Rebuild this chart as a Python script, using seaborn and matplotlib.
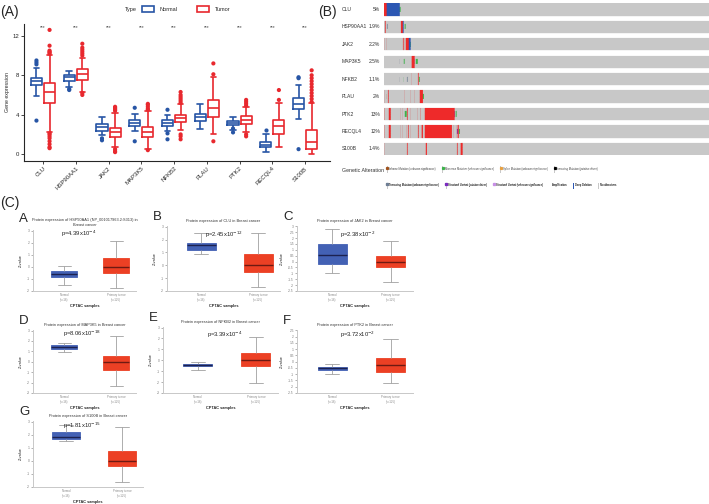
import numpy as np
import pandas as pd
import matplotlib
matplotlib.use("Agg")
import matplotlib.pyplot as plt
import seaborn as sns
from matplotlib.patches import Patch
from matplotlib.lines import Line2D
from matplotlib.colors import ListedColormap
from matplotlib.legend_handler import HandlerTuple
from matplotlib.transforms import blended_transform_factory

# ---------------- Panel A data (boxplot stats) ----------------
genes = ["CLU", "HSP90AA1", "JAK2", "MAP3K5", "NFKB2", "PLAU", "PTK2", "RECQL4", "S100B"]
# whisker-low, Q1, median, Q3, whisker-high
normal_stats = [
    [5.9, 7.0, 7.41, 7.72, 8.7],
    [6.76, 7.44, 7.78, 8.02, 8.43],
    [1.9, 2.35, 2.75, 3.03, 3.77],
    [2.35, 2.82, 3.13, 3.43, 4.1],
    [2.35, 2.82, 3.16, 3.43, 3.94],
    [2.58, 3.37, 3.77, 4.11, 5.06],
    [2.48, 2.92, 3.16, 3.33, 3.77],
    [0.2, 0.71, 0.95, 1.22, 2.07],
    [3.6, 4.55, 5.13, 5.71, 6.97],
]
tumor_stats = [
    [2.24, 5.23, 6.32, 7.17, 10.06],
    [6.3, 7.5, 8.12, 8.6, 9.8],
    [0.7, 1.73, 2.24, 2.69, 4.2],
    [0.5, 1.73, 2.24, 2.75, 4.4],
    [2.4, 3.26, 3.7, 3.94, 5.1],
    [2.0, 3.77, 4.72, 5.47, 7.78],
    [2.24, 3.09, 3.5, 3.84, 4.8],
    [0.7, 2.0, 2.82, 3.43, 5.2],
    [0.03, 0.54, 1.22, 2.48, 5.2],
]
normal_fliers = [
    [9.5, 9.3, 9.1, 3.4],
    [6.6, 6.5],
    [1.6, 1.4],
    [4.7, 1.3],
    [4.5, 2.1, 1.5],
    [],
    [2.6, 2.2],
    [2.4],
    [7.8, 7.7, 0.5],
]
tumor_fliers = [
    [10.2, 10.3, 10.4, 10.5, 11.0, 12.6, 2.1, 2.0, 1.8, 1.6, 1.3, 1.0, 0.7, 0.6],
    [10.0, 10.2, 10.4, 10.6, 10.8, 11.2, 6.2, 6.0],
    [4.4, 4.5, 4.6, 4.7, 4.8, 0.5, 0.3, 0.2],
    [4.5, 4.6, 4.8, 5.0, 5.1, 0.4],
    [5.2, 5.4, 5.6, 5.8, 6.0, 6.3, 2.0, 1.8, 1.5],
    [8.1, 9.2, 1.3],
    [4.9, 5.1, 5.3, 5.5, 2.0, 1.8],
    [5.5, 6.5],
    [5.3, 5.6, 5.9, 6.2, 6.5, 6.8, 7.1, 7.4, 7.7, 8.0, 8.5],
]
types = ["Normal", "Tumor"]
sig_marks = ["***"] * 9

# ---------------- Panel B data (oncoprint, 975 sample columns) ----------------
n_samples = 975
onco_pct = ["5%", "1.9%", "2.2%", "2.5%", "1.1%", "2%", "13%", "12%", "1.4%"]
# runs of altered samples: (start, stop, alteration)
onco_runs = [
    [(0, 8, "AMP"), (8, 48, "DEL"), (48, 50, "MIS")],
    [(4, 5, "AMP"), (10, 11, "TRU"), (52, 57, "AMP"), (57, 59, "DEL"), (62, 65, "MIS")],
    [(2, 3, "AMP"), (8, 9, "AMP"), (58, 59, "AMP"), (62, 63, "AMP"), (66, 75, "AMP"), (75, 80, "DEL"), (80, 82, "MIS")],
    [(48, 49, "TRU"), (60, 62, "MIS"), (83, 92, "AMP"), (92, 93, "SVD"), (96, 102, "MIS")],
    [(48, 49, "TRU"), (60, 61, "MIS"), (70, 71, "TRU"), (83, 84, "AMP"), (103, 104, "AMP"), (106, 108, "MIS")],
    [(2, 3, "AMP"), (8, 9, "INF"), (13, 14, "AMP"), (63, 64, "AMP"), (80, 81, "AMP"), (93, 94, "AMP"),
     (108, 118, "AMP"), (118, 121, "MIS")],
    [(2, 4, "AMP"), (15, 21, "AMP"), (50, 51, "AMP"), (56, 57, "AMP"), (63, 68, "MIS"), (70, 71, "AMP"),
     (80, 81, "AMP"), (102, 103, "AMP"), (110, 112, "AMP"), (123, 212, "AMP"), (212, 214, "SVD"), (215, 218, "MIS")],
    [(2, 4, "AMP"), (15, 21, "AMP"), (50, 51, "AMP"), (56, 57, "AMP"), (68, 69, "AMP"), (73, 74, "AMP"),
     (80, 81, "AMP"), (103, 104, "AMP"), (113, 118, "AMP"), (123, 205, "AMP"), (210, 211, "AMP"), (218, 219, "AMP"),
     (220, 221, "SVD"), (221, 225, "AMP"), (226, 229, "MIS")],
    [(3, 4, "AMP"), (70, 71, "AMP"), (126, 130, "AMP"), (220, 221, "AMP"), (230, 236, "AMP")],
]
alt_codes = ["NONE", "AMP", "DEL", "MIS", "INF", "SPL", "TRD", "TRU", "SVD", "SVU"]
alt_colors = ["#c8c8c8", "#ee2a2a", "#2c57b3", "#3cb34a", "#a0521d", "#e8a040", "#000000", "#6f7f95", "#7b2cbf", "#c890e6"]
legend_row1 = [("INF", "Inframe Mutation (unknown significance)"), ("MIS", "Missense Mutation (unknown significance)"),
               ("SPL", "Splice Mutation (unknown significance)"), ("TRD", "Truncating Mutation (putative driver)")]
legend_row2 = [("TRU", "Truncating Mutation (unknown significance)"), ("SVD", "Structural Variant (putative driver)"),
               ("SVU", "Structural Variant (unknown significance)"), ("AMP", "Amplification"),
               ("DEL", "Deep Deletion"), ("NONE", "No alterations")]

# ---------------- Panel C data (CPTAC Z-values) ----------------
c_letters = ["A", "B", "C", "D", "E", "F", "G"]
c_titles = [
    "Protein expression of HSP90AA1 (NP_001017963.2:S313) in\nBreast cancer",
    "Protein expression of CLU in Breast cancer",
    "Protein expression of JAK2 in Breast cancer",
    "Protein expression of MAP3K5 in Breast cancer",
    "Protein expression of NFKB2 in Breast cancer",
    "Protein expression of PTK2 in Breast cancer",
    "Protein expression of S100B in Breast cancer",
]
c_pvals = [r"p=4.39x10$^{-4}$", r"p=2.45x10$^{-12}$", r"p=2.38x10$^{-2}$", r"p=8.06x10$^{-18}$",
           r"p=3.39x10$^{-4}$", r"p=3.72x10$^{-2}$", r"p=1.81x10$^{-15}$"]
c_normal = [
    [-1.53, -0.86, -0.61, -0.36, 0.03],
    [0.87, 1.2, 1.6, 1.72, 2.5],
    [-1.0, -0.23, 0.57, 1.49, 2.77],
    [0.9, 1.21, 1.41, 1.57, 1.83],
    [-0.86, -0.52, -0.4, -0.3, -0.15],
    [-1.01, -0.66, -0.5, -0.39, -0.15],
    [1.54, 1.67, 1.82, 2.18, 2.74],
]
c_tumor = [
    [-1.78, -0.5, 0.0, 0.72, 2.14],
    [-1.7, -0.54, 0.0, 0.87, 2.5],
    [-1.71, -0.49, 0.0, 0.49, 1.77],
    [-2.36, -0.8, 0.0, 0.54, 2.43],
    [-2.1, -0.52, 0.06, 0.7, 2.15],
    [-1.69, -0.82, -0.28, 0.28, 1.82],
    [-1.62, -0.38, 0.0, 0.72, 2.56],
]
c_ticks = [
    [-2, -1, 0, 1, 2, 3],
    [-2, -1, 0, 1, 2, 3],
    [-2.5, -2, -1.5, -1, -0.5, 0, 0.5, 1, 1.5, 2, 2.5, 3],
    [-3, -2, -1, 0, 1, 2, 3],
    [-3, -2, -1, 0, 1, 2, 3],
    [-2.5, -2, -1.5, -1, -0.5, 0, 0.5, 1, 1.5, 2, 2.5],
    [-2, -1, 0, 1, 2, 3],
]
c_groups = ["Normal\n(n=18)", "Primary tumor\n(n=125)"]

# ---------------- style ----------------
sns.set_theme(style="ticks")
plt.rcParams['font.family'] = ['Liberation Sans', 'DejaVu Sans']
plt.rcParams['axes.linewidth'] = 0.8

W, H = 709, 504
fig = plt.figure(figsize=(W / 100, H / 100), dpi=100)
fig.patch.set_facecolor("white")


def add_ax(x0, y0, x1, y1):
    return fig.add_axes([x0 / W, 1 - y1 / H, (x1 - x0) / W, (y1 - y0) / H])


def ftext(x, y, s, **kw):
    fig.text(x / W, 1 - y / H, s, **kw)


BLUE_A, RED_A = "#2755a5", "#e8282e"

# ---------------- Panel A ----------------
axA = add_ax(24, 24, 330, 161)
rows = []
for g, ns, ts in zip(genes, normal_stats, tumor_stats):
    for v in ns:
        rows.append((g, "Normal", v))
    for v in ts:
        rows.append((g, "Tumor", v))
dfA = pd.DataFrame(rows, columns=["gene", "Type", "value"])
frows = []
for g, nf, tf in zip(genes, normal_fliers, tumor_fliers):
    for v in nf:
        frows.append((g, "Normal", v))
    for v in tf:
        frows.append((g, "Tumor", v))
dfF = pd.DataFrame(frows, columns=["gene", "Type", "value"])
pal = {"Normal": BLUE_A, "Tumor": RED_A}
sns.boxplot(data=dfA, x="gene", y="value", hue="Type", order=genes, hue_order=types, palette=pal,
            fill=False, whis=(0, 100), width=0.8, gap=0.15, linewidth=1.2, ax=axA, legend=False)
sns.stripplot(data=dfF, x="gene", y="value", hue="Type", order=genes, hue_order=types, palette=pal,
              dodge=True, jitter=False, size=3.0, ax=axA, legend=False, zorder=3)
axA.set_ylim(-0.7, 13.2)
axA.set_xlim(-0.58, 8.76)
axA.set_yticks([0, 4, 8, 12])
axA.set_xlabel("")
axA.set_ylabel("Gene expression", fontsize=3.8, labelpad=2)
axA.tick_params(axis="both", labelsize=4.3, length=2, width=0.6, pad=1.5)
for lab in axA.get_xticklabels():
    lab.set_rotation(45)
    lab.set_ha("right")
    lab.set_rotation_mode("anchor")
for i, s in enumerate(sig_marks):
    axA.text(i, 12.85, s, ha="center", va="center", fontsize=3.5, color="#444444")
sns.despine(ax=axA)
ftext(125, 9, "Type", fontsize=4, va="center")
axA.legend(handles=[Patch(facecolor="white", edgecolor=BLUE_A, lw=1.2),
                    Patch(facecolor="white", edgecolor=RED_A, lw=1.2)],
           labels=types, ncol=2, loc="center", bbox_to_anchor=(186 / W, 1 - 9 / H),
           bbox_transform=fig.transFigure, frameon=False, fontsize=4, handlelength=2.2,
           handleheight=1.2, columnspacing=3.5, handletextpad=1.0, borderpad=0)

ftext(0, 12, "(A)", fontsize=10, va="center")
ftext(318, 12, "(B)", fontsize=10, va="center")
ftext(0, 203, "(C)", fontsize=10, va="center")

# ---------------- Panel B (oncoprint via heatmap) ----------------
sub, gap = 7, 3
nrows = len(genes) * sub + (len(genes) - 1) * gap
M = np.full((nrows, n_samples), np.nan)
row_centers = []
for gi, runs in enumerate(onco_runs):
    r0 = gi * (sub + gap)
    M[r0:r0 + sub, :] = 0
    row_centers.append(r0 + sub / 2)
    for (a, b, code) in runs:
        k = alt_codes.index(code)
        if code in ("AMP", "DEL"):
            M[r0:r0 + sub, a:b] = k
        else:
            M[r0 + 2:r0 + 5, a:b] = k
axB = add_ax(384, 3.3, 709, 155)
sns.heatmap(M, cmap=ListedColormap(alt_colors), vmin=-0.5, vmax=len(alt_colors) - 0.5, cbar=False,
            ax=axB, xticklabels=False, yticklabels=False, linewidths=0.12, linecolor="face",
            antialiased=True)
axB.set_xlabel("")
axB.set_ylabel("")
trB = blended_transform_factory(fig.transFigure, axB.transData)
for g, p, yc in zip(genes, onco_pct, row_centers):
    axB.text(342 / W, yc, g, transform=trB, fontsize=3.6, va="center", ha="left", color="#333333")
    axB.text(380 / W, yc, p, transform=trB, fontsize=3.6, va="center", ha="right", color="#333333")
ftext(342, 170, "Genetic Alteration", fontsize=3.8, va="center", color="#333333")


def onco_handle(code):
    c = alt_colors[alt_codes.index(code)]
    if code in ("AMP", "DEL", "NONE"):
        return Patch(facecolor=c, edgecolor="none")
    return (Patch(facecolor=alt_colors[0], edgecolor="none"),
            Line2D([], [], marker="s", color=c, markersize=1.3, linestyle="None"))


for items, ytop in ((legend_row1, 166.5), (legend_row2, 182.5)):
    leg = axB.legend(handles=[onco_handle(c) for c, _ in items], labels=[t for _, t in items],
                     ncol=len(items), loc="upper left", bbox_to_anchor=(387 / W, 1 - ytop / H),
                     bbox_transform=fig.transFigure, frameon=False, fontsize=1.9, handlelength=0.3,
                     handleheight=3.2, columnspacing=2.6, handletextpad=0.5, borderpad=0, borderaxespad=0,
                     handler_map={tuple: HandlerTuple(ndivide=1)})
    for t in leg.get_texts():
        t.set_color("#444444")
    axB.add_artist(leg)

# ---------------- Panel C ----------------
c_boxes = [(33, 230, 136, 291), (167, 226, 280, 291), (297, 226, 413, 291),
           (33, 330, 136, 393), (163, 327, 278, 393), (297, 330, 413, 393),
           (33, 421, 143, 487)]
c_ptext = [(0.44, 0.93), (0.5, 0.86), (0.52, 0.86), (0.48, 0.94), (0.54, 0.88), (0.52, 0.92), (0.45, 0.92)]
BLUE_C, RED_C = "#4361b4", "#ec4024"
MED_C = ["#1c2250", "#6e1a12"]
for i in range(7):
    x0, y0, x1, y1 = c_boxes[i]
    ax = add_ax(x0, y0, x1, y1)
    df = pd.DataFrame({"Group": [c_groups[0]] * 5 + [c_groups[1]] * 5,
                       "Z": c_normal[i] + c_tumor[i]})
    sns.boxplot(data=df, x="Group", y="Z", hue="Group", order=c_groups, hue_order=c_groups,
                palette={c_groups[0]: BLUE_C, c_groups[1]: RED_C}, saturation=1, width=0.5,
                whis=(0, 100), linewidth=0.6, linecolor="#a0a0a0", ax=ax, legend=False,
                medianprops=dict(linewidth=1.0))
    for cont, mc, fc in zip(ax.containers, MED_C, [BLUE_C, RED_C]):
        for m in cont.medians:
            m.set_color(mc)
        for b in cont.boxes:
            b.set_edgecolor(fc)
    yt = c_ticks[i]
    ax.set_ylim(yt[0], yt[-1] + 0.05 * (yt[1] - yt[0]))
    ax.set_yticks(yt)
    ax.set_yticklabels([f"{v:g}" for v in yt])
    ax.set_xlim(-0.6, 1.38)
    ax.tick_params(axis="y", labelsize=2.3, length=1.2, width=0.4, pad=1, colors="#777777")
    ax.tick_params(axis="x", labelsize=2.1, length=0, pad=1.5, colors="#888888")
    ax.set_ylabel("Z-value", fontsize=2.8, labelpad=3)
    ax.set_xlabel("CPTAC samples", fontsize=2.8, fontweight="bold", labelpad=2)
    ax.set_title(c_titles[i], fontsize=2.8, pad=3, color="#333333")
    for side in ("top", "right"):
        ax.spines[side].set_visible(False)
    for side in ("left", "bottom"):
        ax.spines[side].set_color("#c8c8c8")
        ax.spines[side].set_linewidth(0.7)
    px, py = c_ptext[i]
    ax.text(px, py, c_pvals[i], transform=ax.transAxes, ha="center", va="center", fontsize=4.2,
            color="#222222")
    title_y = y0 - 9 if i != 0 else y0 - 11
    ftext(x0 - 14, title_y, c_letters[i], fontsize=9.5, va="center")

fig.savefig("out.png", dpi=100, facecolor="white")
